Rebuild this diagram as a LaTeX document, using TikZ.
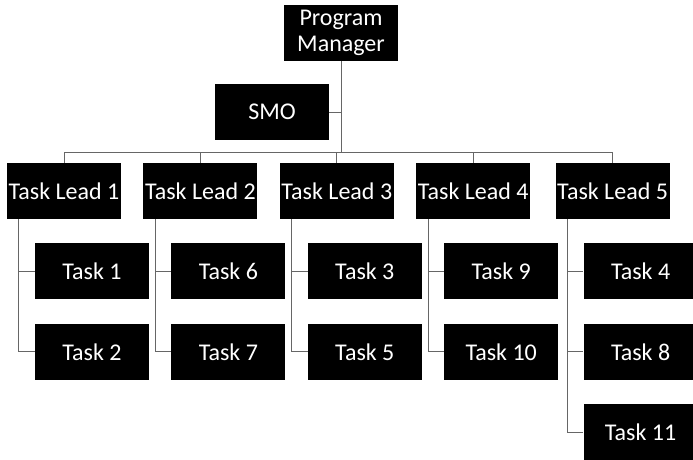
\documentclass[tikz,border=0pt]{standalone}
\usepackage{fontspec}
\setmainfont{Carlito}
\usetikzlibrary{positioning}

\begin{document}
\begin{tikzpicture}[x=1pt,y=1pt,node distance=23pt,
  box/.style={fill=black, text=white, rectangle, minimum width=114pt, minimum height=56pt, inner sep=1pt, align=center, font=\fontsize{24}{26}\selectfont},
  link/.style={draw=black!60, line width=0.8pt}]
  \useasboundingbox (0,0) rectangle (693,-460);

  \node[box] (pm) at (341,-33) {Program\\Manager};
  \node[box] (smo) at (272,-112) {SMO};
  \coordinate (bus) at (341,-152);

  \node[box] (lead1) at (64,-191) {Task Lead 1};
  \node[box, right=22pt of lead1] (lead2) {Task Lead 2};
  \node[box, right=22pt of lead2] (lead3) {Task Lead 3};
  \node[box, right=22pt of lead3] (lead4) {Task Lead 4};
  \node[box, right=25pt of lead4] (lead5) {Task Lead 5};

  \node[box, below=24pt of lead1, xshift=28pt] (task1) {Task 1};
  \node[box, below=24pt of task1] (task2) {Task 2};
  \node[box, below=24pt of lead2, xshift=28pt] (task6) {Task 6};
  \node[box, below=24pt of task6] (task7) {Task 7};
  \node[box, below=24pt of lead3, xshift=28pt] (task3) {Task 3};
  \node[box, below=24pt of task3] (task5) {Task 5};
  \node[box, below=24pt of lead4, xshift=28pt] (task9) {Task 9};
  \node[box, below=24pt of task9] (task10) {Task 10};
  \node[box, below=24pt of lead5, xshift=28pt] (task4) {Task 4};
  \node[box, below=24pt of task4] (task8) {Task 8};
  \node[box, below=24pt of task8] (task11) {Task 11};

  \draw[link] (pm.south) -- (bus);
  \draw[link] (smo.east) -- (smo.east -| pm.south);
  \draw[link] (lead1.north |- bus) -- (lead5.north |- bus);
  \draw[link] (lead1.north) -- (lead1.north |- bus);
  \draw[link] (lead2.north) -- (lead2.north |- bus);
  \draw[link] (lead3.north) -- (lead3.north |- bus);
  \draw[link] (lead4.north) -- (lead4.north |- bus);
  \draw[link] (lead5.north) -- (lead5.north |- bus);

  \draw[link] ([xshift=12pt]lead1.south west) |- (task1.west);
  \draw[link] ([xshift=12pt]lead1.south west) |- (task2.west);
  \draw[link] ([xshift=12pt]lead2.south west) |- (task6.west);
  \draw[link] ([xshift=12pt]lead2.south west) |- (task7.west);
  \draw[link] ([xshift=12pt]lead3.south west) |- (task3.west);
  \draw[link] ([xshift=12pt]lead3.south west) |- (task5.west);
  \draw[link] ([xshift=12pt]lead4.south west) |- (task9.west);
  \draw[link] ([xshift=12pt]lead4.south west) |- (task10.west);
  \draw[link] ([xshift=12pt]lead5.south west) |- (task4.west);
  \draw[link] ([xshift=12pt]lead5.south west) |- (task8.west);
  \draw[link] ([xshift=12pt]lead5.south west) |- (task11.west);
\end{tikzpicture}
\end{document}
